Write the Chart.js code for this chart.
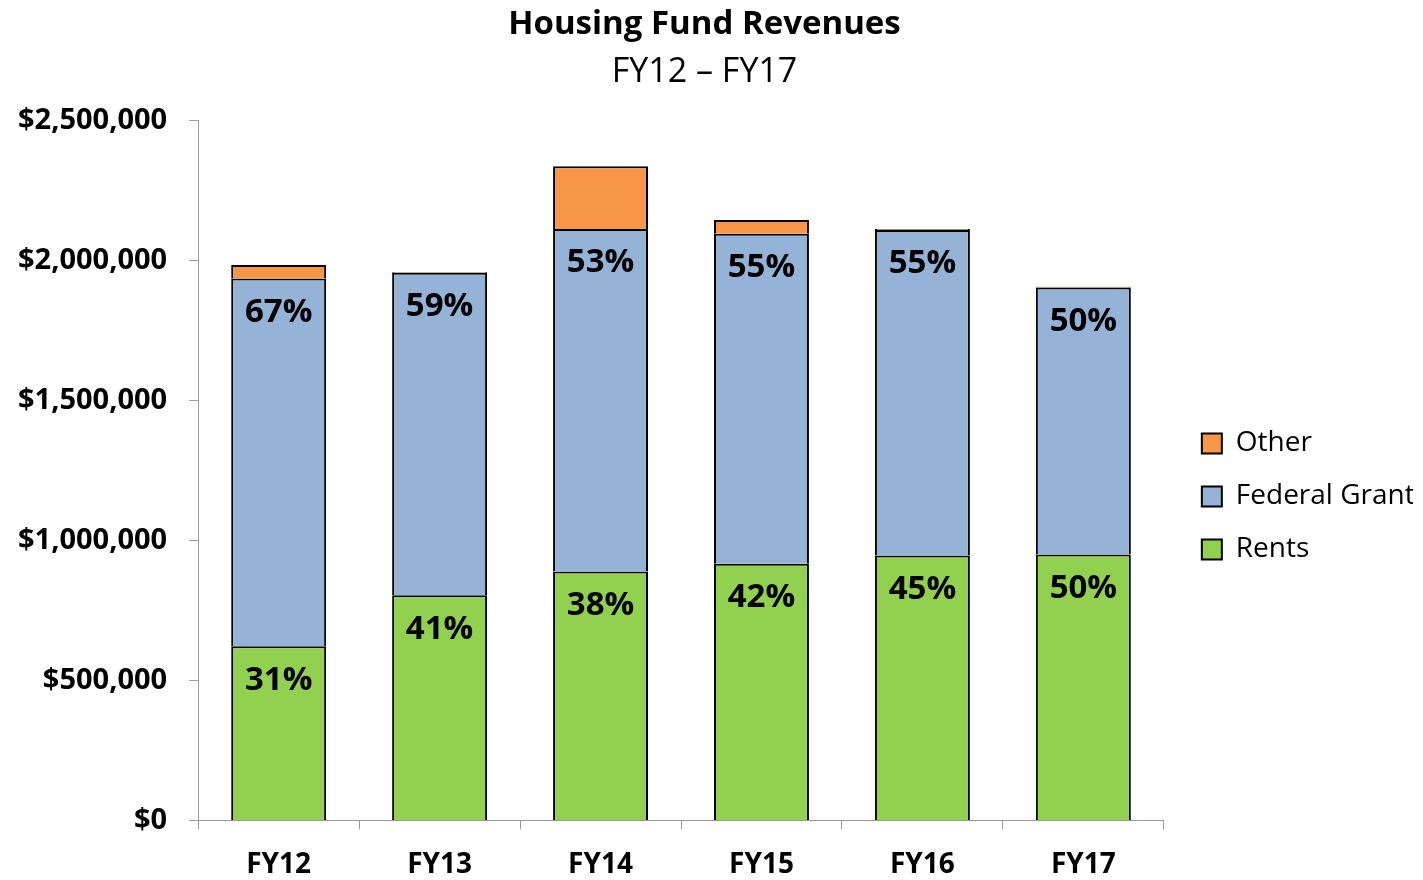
<!DOCTYPE html>
<html>
<head>
<meta charset="utf-8">
<script src="https://cdn.jsdelivr.net/npm/chart.js@4"></script>
<style>
  body { margin: 0; background: #fff; }
</style>
</head>
<body>
<canvas id="chart" width="1423" height="880"></canvas>
<script>
// Housing Fund Revenues FY12 - FY17, stacked columns
const years = ["FY12", "FY13", "FY14", "FY15", "FY16", "FY17"];
const rents = [622000, 804000, 889000, 917000, 946000, 950000];
const federalGrant = [1313000, 1152000, 1223000, 1178000, 1163000, 953000];
const other = [49000, 3000, 224000, 49000, 3000, 3000];
const rentsPct = ["31%", "41%", "38%", "42%", "45%", "50%"];
const federalPct = ["67%", "59%", "53%", "55%", "55%", "50%"];
const yTicks = [0, 500000, 1000000, 1500000, 2000000, 2500000];

const FONT = "'Open Sans', 'Liberation Sans', sans-serif";

const pctLabels = {
    id: 'pctLabels',
    afterDatasetsDraw(chart) {
        const ctx = chart.ctx;
        const lists = [rentsPct, federalPct];
        ctx.save();
        ctx.font = "bold 33px " + FONT;
        ctx.fillStyle = '#000';
        ctx.textAlign = 'center';
        ctx.textBaseline = 'middle';
        lists.forEach((texts, di) => {
            chart.getDatasetMeta(di).data.forEach((bar, i) => {
                ctx.fillText(texts[i], bar.x, bar.y + 34);
            });
        });
        ctx.restore();
    }
};

const ctx = document.getElementById('chart').getContext('2d');
new Chart(ctx, {
    type: 'bar',
    data: {
        labels: years,
        datasets: [
            { label: 'Rents', data: rents, backgroundColor: '#92D050' },
            { label: 'Federal Grant', data: federalGrant, backgroundColor: '#95B3D7' },
            { label: 'Other', data: other, backgroundColor: '#F79646' }
        ].map(d => Object.assign(d, {
            borderColor: '#000',
            borderWidth: 2,
            categoryPercentage: 1,
            barPercentage: 0.59
        }))
    },
    options: {
        responsive: false,
        animation: false,
        layout: { padding: { left: -4, right: 10, top: 0, bottom: -21 } },
        plugins: {
            title: {
                display: true,
                text: 'Housing Fund Revenues',
                color: '#000',
                font: { family: FONT, size: 33, weight: 'bold' },
                padding: { top: 5, bottom: 7 }
            },
            subtitle: {
                display: true,
                text: 'FY12 \u2013 FY17',
                color: '#000',
                font: { family: FONT, size: 34 },
                padding: { top: 0, bottom: 28 }
            },
            legend: {
                position: 'right',
                reverse: true,
                title: {
                    display: true,
                    text: ' ',
                    font: { size: 10 },
                    padding: { top: 40, bottom: 40 }
                },
                labels: {
                    color: '#000',
                    font: { family: FONT, size: 28 },
                    boxWidth: 20,
                    boxHeight: 20,
                    padding: 25
                }
            },
            tooltip: { enabled: false }
        },
        scales: {
            x: {
                stacked: true,
                grid: { drawOnChartArea: false, color: '#999', tickLength: 9 },
                border: { color: '#999' },
                ticks: {
                    color: '#000',
                    font: { family: FONT, size: 28, weight: 'bold' },
                    padding: 19
                }
            },
            y: {
                stacked: true,
                min: 0,
                max: 2500000,
                afterBuildTicks: axis => { axis.ticks = yTicks.map(v => ({ value: v })); },
                grid: { drawOnChartArea: false, color: '#999', tickLength: 9 },
                border: { color: '#999' },
                ticks: {
                    color: '#000',
                    font: { family: FONT, size: 29, weight: 'bold' },
                    padding: 22,
                    callback: v => '$' + Number(v).toLocaleString('en-US')
                }
            },
            gap: {
                position: 'right',
                display: true,
                grid: { display: false },
                border: { display: false },
                ticks: { display: false },
                afterFit: s => { s.width = 13; }
            }
        }
    },
    plugins: [pctLabels]
});
</script>
</body>
</html>
